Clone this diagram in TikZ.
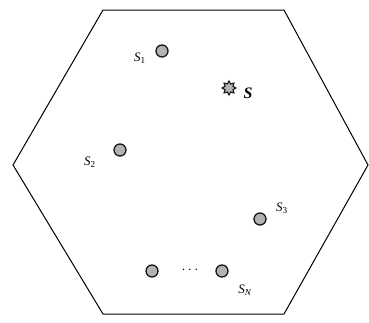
\documentclass[tikz,border=0pt]{standalone}
\usepackage{fontspec}
\setmainfont{Liberation Serif}
\usetikzlibrary{shapes.geometric}
\begin{document}
\begin{tikzpicture}[x=1pt,y=-1pt,
  sensor/.style={circle,draw=black!90,line width=1.3pt,fill=black!30,minimum size=12pt,inner sep=0pt},
  src/.style={star,star points=8,star point ratio=1.6,draw=black!90,line width=1.1pt,fill=black!30,minimum size=14pt,inner sep=0pt},
  lbl/.style={inner sep=0pt,font=\fontsize{13}{14}\selectfont}]
\useasboundingbox (0,0) rectangle (369,322);
\draw[line width=1pt] (103,10) coordinate (h1) -- (284,10) coordinate (h2) -- (368,165) coordinate (h3)
  -- (284,314) coordinate (h4) -- (103,314) coordinate (h5) -- (13,165) coordinate (h6) -- cycle;
\node[sensor] (s1) at (162,51) {};
\node[src] (s) at (229,88) {};
\node[sensor] (s2) at (120,150) {};
\node[sensor] (s3) at (260,219) {};
\node[sensor] (sa) at (152,271) {};
\node[sensor] (sn) at (222,271) {};
\node[lbl] (l1) at (140,58) {\textit{S}\textsubscript{1}};
\node[lbl,font=\fontsize{16}{17}\selectfont\bfseries\itshape] (ls) at (248,93) {S};
\node[lbl] (l2) at (90,162) {\textit{S}\textsubscript{2}};
\node[lbl] (l3) at (282,208) {\textit{S}\textsubscript{3}};
\node[lbl] (ln) at (245,290) {\textit{S}\textsubscript{\textit{N}}};
\node[lbl,font=\fontsize{14}{15}\selectfont\bfseries] (dots) at (190,270) {$\cdots$};
\end{tikzpicture}
\end{document}
